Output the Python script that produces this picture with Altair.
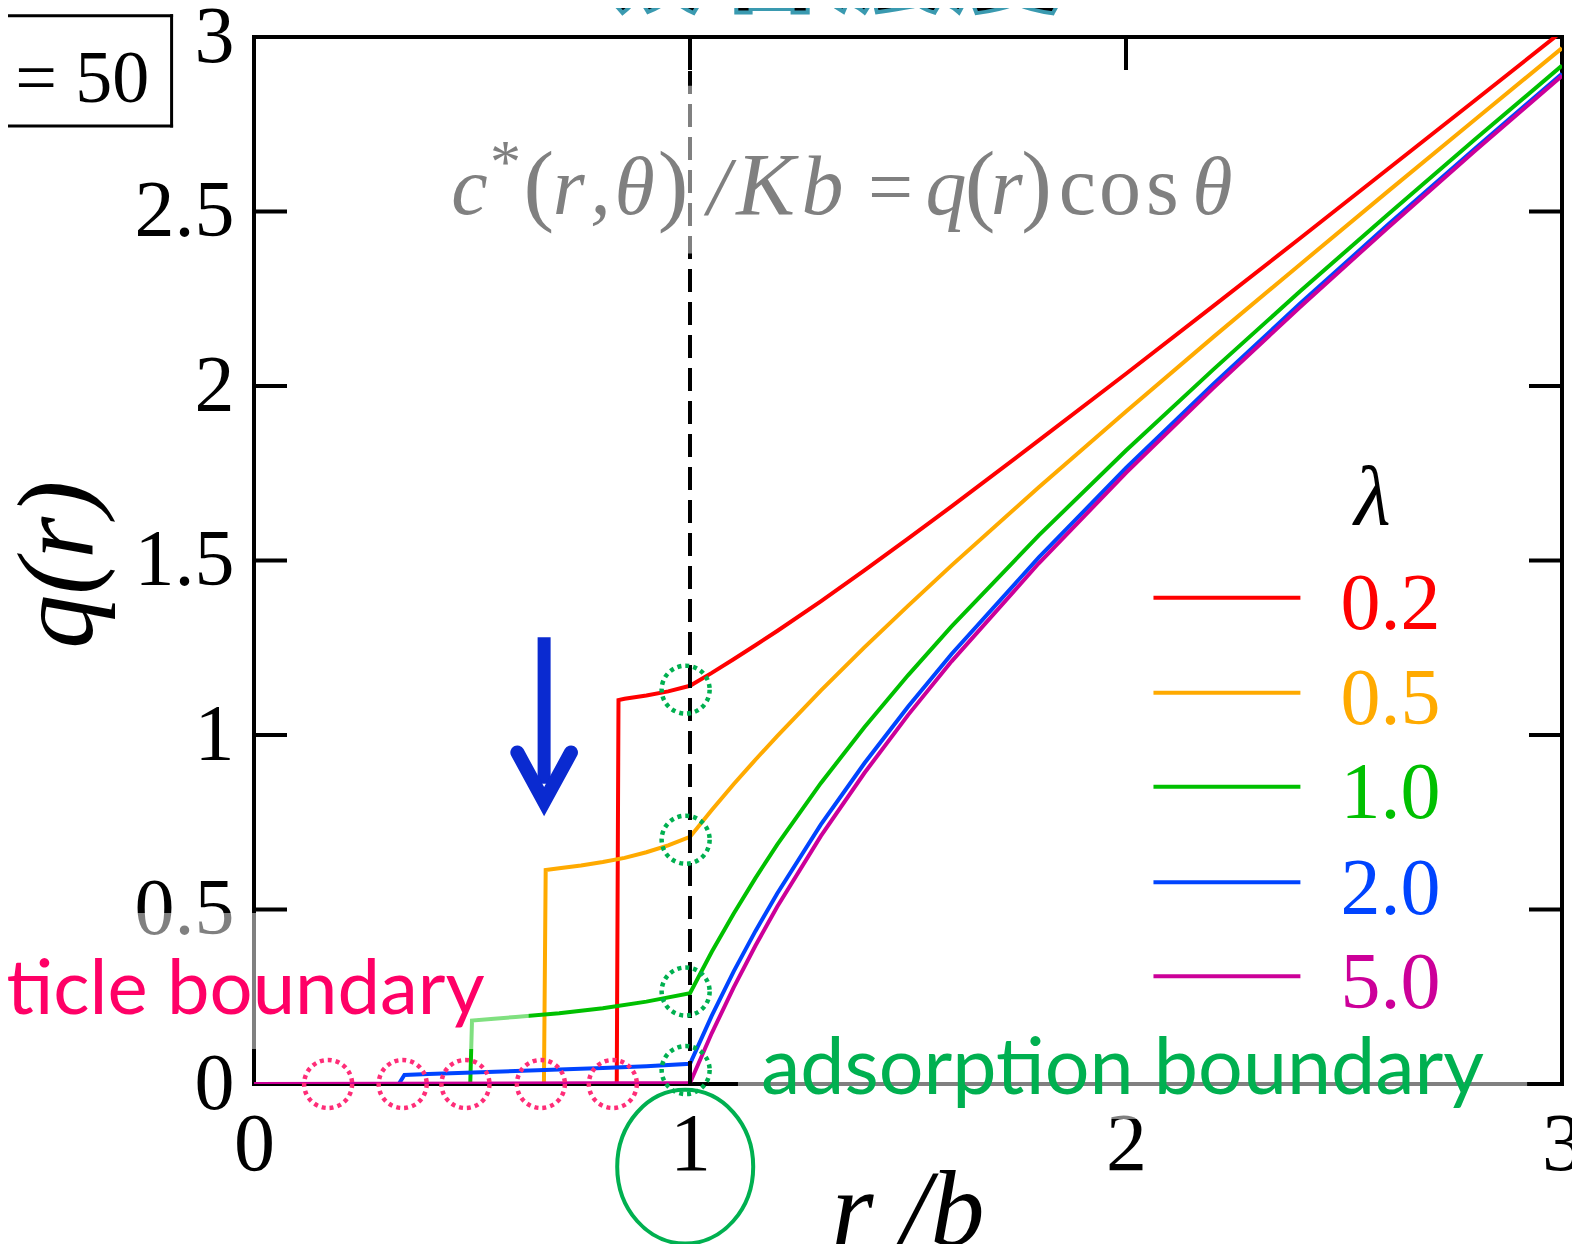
import altair as alt
import pandas as pd

# ---------------- data ----------------
lam_labels = ["0.2", "0.5", "1.0", "2.0", "5.0"]
lam_colors = ["#ff0000", "#ffaa00", "#00c000", "#0044ff", "#cc0099"]

r_x = [0, 0.832, 0.836, 0.85, 0.9, 0.95, 1.0, 1.05, 1.1, 1.15, 1.2, 1.3, 1.4, 1.5, 1.6, 1.8, 2.0, 2.2, 2.4, 2.6, 2.8, 3.0]
r_q = [0, 0, 1.100, 1.104, 1.113, 1.125, 1.141, 1.178, 1.217, 1.257, 1.298, 1.383, 1.472, 1.563, 1.655, 1.844, 2.035, 2.229, 2.424, 2.621, 2.818, 3.016]

o_x = [0, 0.665, 0.669, 0.7, 0.75, 0.8, 0.85, 0.9, 0.95, 1.0, 1.05, 1.1, 1.15, 1.2, 1.3, 1.4, 1.5, 1.6, 1.8, 2.0, 2.2, 2.4, 2.6, 2.8, 3.0]
o_q = [0, 0, 0.613, 0.618, 0.626, 0.636, 0.648, 0.664, 0.684, 0.708, 0.785, 0.859, 0.929, 0.997, 1.127, 1.251, 1.370, 1.486, 1.710, 1.927, 2.140, 2.349, 2.557, 2.763, 2.968]

g_x = [0, 0.496, 0.5, 0.6, 0.7, 0.8, 0.9, 1.0, 1.05, 1.1, 1.15, 1.2, 1.3, 1.4, 1.5, 1.6, 1.8, 2.0, 2.2, 2.4, 2.6, 2.8, 3.0]
g_q = [0, 0, 0.182, 0.192, 0.203, 0.217, 0.236, 0.26, 0.379, 0.488, 0.590, 0.686, 0.862, 1.022, 1.171, 1.311, 1.572, 1.815, 2.047, 2.272, 2.491, 2.706, 2.918]

b_x = [0, 0.332, 0.345, 0.4, 0.6, 0.8, 0.9, 1.0, 1.05, 1.1, 1.15, 1.2, 1.3, 1.4, 1.5, 1.6, 1.8, 2.0, 2.2, 2.4, 2.6, 2.8, 3.0]
b_q = [0, 0, 0.026, 0.029, 0.037, 0.046, 0.051, 0.058, 0.196, 0.322, 0.438, 0.546, 0.743, 0.919, 1.081, 1.232, 1.509, 1.765, 2.005, 2.237, 2.461, 2.680, 2.895]

m_x = [0, 1.0, 1.05, 1.1, 1.15, 1.2, 1.3, 1.4, 1.5, 1.6, 1.8, 2.0, 2.2, 2.4, 2.6, 2.8, 3.0]
m_q = [0, 0.003, 0.146, 0.276, 0.396, 0.508, 0.710, 0.891, 1.057, 1.211, 1.492, 1.751, 1.994, 2.227, 2.453, 2.673, 2.889]

series = [(lam_labels[0], r_x, r_q), (lam_labels[1], o_x, o_q), (lam_labels[2], g_x, g_q),
          (lam_labels[3], b_x, b_q), (lam_labels[4], m_x, m_q)]

y_ticks = [0, 0.5, 1, 1.5, 2, 2.5, 3]
x_ticks = [0, 1, 2, 3]

particle_marks = [0.170, 0.341, 0.485, 0.658, 0.823]
adsorption_marks = [1.13, 0.70, 0.265, 0.04]

# ---------------- tables ----------------
rows = []
for k, (lab, xs_, qs_) in enumerate(series):
    for i, (a, b) in enumerate(zip(xs_, qs_)):
        rows.append({"lam": lab, "k": k, "i": i, "x": a, "q": b})
curves = pd.DataFrame(rows)

XS = alt.Scale(domain=[0, 3], nice=False, zero=False)
YS = alt.Scale(domain=[0, 3], nice=False, zero=False)
CS = alt.Scale(domain=lam_labels, range=lam_colors)

W, H = 1308, 1047
tlx = 33 / (W / 3)
tly = 33 / (H / 3)

def X(f="x"):
    return alt.X(f, type="quantitative", scale=XS, title=None)

def Y(f="q"):
    return alt.Y(f, type="quantitative", scale=YS, title=None)

# frame
frame_df = pd.DataFrame({"x": [0, 0, 0, 3], "x2": [3, 3, 0, 3], "q": [0, 3, 0, 0], "q2": [0, 3, 3, 3]})
frame = alt.Chart(frame_df).mark_rule(strokeWidth=4, color="black", strokeCap="square").encode(
    x=alt.X("x:Q", scale=XS, title=None,
            axis=alt.Axis(values=x_ticks, format="d", ticks=False, domain=False, grid=False,
                          labelFont="Liberation Serif", labelFontSize=82, labelColor="black",
                          labelPadding=20, labelFlush=False, labelOverlap=False, labelBound=False)),
    x2="x2:Q",
    y=alt.Y("q:Q", scale=YS, title=None,
            axis=alt.Axis(values=y_ticks, format=".1~f", ticks=False, domain=False, grid=False,
                          labelFont="Liberation Serif", labelFontSize=80, labelColor="black",
                          labelPadding=20, labelFlush=False, labelOverlap=False, labelBound=False)),
    y2="q2:Q",
)

tick_rows = []
for v in y_ticks[1:-1]:
    tick_rows.append({"x": 0, "x2": tlx, "q": v, "q2": v})
    tick_rows.append({"x": 3 - tlx, "x2": 3, "q": v, "q2": v})
for v in x_ticks[1:-1]:
    tick_rows.append({"x": v, "x2": v, "q": 3 - tly, "q2": 3})
ticks = alt.Chart(pd.DataFrame(tick_rows)).mark_rule(strokeWidth=4, color="black").encode(
    x=X(), x2="x2:Q", y=Y(), y2="q2:Q")

lines = alt.Chart(curves).mark_line(strokeWidth=4, clip=True).encode(
    x=X(), y=Y(), color=alt.Color("lam:N", scale=CS, legend=None),
    detail="k:N", order="i:Q")

dash = alt.Chart(pd.DataFrame({"x": [1], "q": [0], "q2": [3]})).mark_rule(
    strokeWidth=4, color="black", strokeDash=[23, 10]).encode(x=X(), y=Y(), y2="q2:Q")

# translucent text boxes of the slide
box_df = pd.DataFrame({"x": [-0.75, 1.11, 0.42], "x2": [0.63, 2.92, 2.18],
                       "q": [0.10, -0.10, 2.38], "q2": [0.49, 0.08, 2.86]})
boxes = alt.Chart(box_df).mark_rect(color="white", opacity=0.5).encode(
    x=X(), x2="x2:Q", y=Y(), y2="q2:Q")

pink = alt.Chart(pd.DataFrame({"x": particle_marks, "q": [0] * len(particle_marks)})).mark_point(
    shape="circle", size=2304, filled=False, stroke="#ff2d78", strokeWidth=4.5,
    strokeDash=[4, 4], opacity=1).encode(x=X(), y=Y())
greenc = alt.Chart(pd.DataFrame({"x": [0.99] * len(adsorption_marks), "q": adsorption_marks})).mark_point(
    shape="circle", size=2304, filled=False, stroke="#00b050", strokeWidth=4.5,
    strokeDash=[4, 4], opacity=1).encode(x=X(), y=Y())
ellipse = alt.Chart(pd.DataFrame({"x": [0.989], "q": [-0.237]})).mark_point(
    shape="M-1,0A1,1.13,0,0,1,1,0A1,1.13,0,0,1,-1,0Z", size=18496, filled=False,
    stroke="#00b050", strokeWidth=4, opacity=1).encode(x=X(), y=Y())

# arrow
shaft = alt.Chart(pd.DataFrame({"x": [0.6654, 0.6654], "q": [1.28, 0.86], "i": [0, 1]})).mark_line(
    strokeWidth=13, color="#0a2ad0", strokeCap="butt").encode(x=X(), y=Y(), order="i:Q")
head = alt.Chart(pd.DataFrame({"x": [0.604, 0.6654, 0.727], "q": [0.950, 0.809, 0.950], "i": [0, 1, 2]})).mark_line(
    strokeWidth=14, color="#0a2ad0", strokeCap="round", strokeJoin="miter").encode(x=X(), y=Y(), order="i:Q")

# legend
leg_q = [1.393, 1.121, 0.852, 0.578, 0.309]
leg_df = pd.DataFrame({"lam": lam_labels, "x": [2.063] * 5, "x2": [2.40] * 5, "q": leg_q,
                       "lx": [2.492] * 5, "lq": [v - 0.090 for v in leg_q]})
leg_lines = alt.Chart(leg_df).mark_rule(strokeWidth=4).encode(
    x=X(), x2="x2:Q", y=Y(), color=alt.Color("lam:N", scale=CS, legend=None))
leg_text = alt.Chart(leg_df).mark_text(font="Liberation Serif", fontSize=80, align="left",
                                       baseline="alphabetic").encode(
    x=X("lx"), y=Y("lq"), text="lam:N", color=alt.Color("lam:N", scale=CS, legend=None))

def label(t, x, q, **kw):
    return alt.Chart(pd.DataFrame({"x": [x], "q": [q], "t": [t]})).mark_text(**kw).encode(
        x=X(), y=Y(), text="t:N")

grey = "#808080"
fq = 2.494
formula = [
    ("c", 0.4526, fq, 82, "italic"),
    ("*", 0.541, 2.585, 62, "normal"),
    ("(", 0.618, fq, 92, "normal"),
    ("r", 0.685, fq, 82, "italic"),
    (",", 0.771, fq, 82, "italic"),
    ("θ", 0.827, fq, 82, "italic"),
    (")", 0.926, fq, 92, "normal"),
    ("/", 1.040, fq, 82, "italic"),
    ("K", 1.106, fq, 88, "italic"),
    ("b", 1.256, fq, 84, "italic"),
    ("=", 1.408, fq, 80, "normal"),
    ("q", 1.540, fq, 82, "italic"),
    ("(", 1.630, fq, 92, "normal"),
    ("r", 1.690, fq, 82, "italic"),
    (")", 1.760, fq, 92, "normal"),
    ("c", 1.846, fq, 84, "normal"),
    ("o", 1.938, fq, 84, "normal"),
    ("s", 2.046, fq, 84, "normal"),
    ("θ", 2.152, fq, 82, "italic"),
]
texts = [label(t, x, q, fontSize=s, fontStyle=st, font="Liberation Serif", color=grey,
               align="left", baseline="alphabetic") for (t, x, q, s, st) in formula]

serif_i = dict(font="Liberation Serif", fontStyle="italic")
texts += [
    label("λ", 2.565, 1.606, fontSize=84, color="black", align="center", baseline="alphabetic", **serif_i),
    label("q(r)", -0.445, 1.488, fontSize=108, color="black", align="center", baseline="middle", angle=270, **serif_i),
    label("r /b", 1.5, -0.462, fontSize=108, color="black", align="center", baseline="alphabetic", **serif_i),
    label("particle boundary", 0.529, 0.202, fontSize=76, color="#ff0066", align="right", baseline="alphabetic", font="Lato"),
    label("adsorption boundary", 1.163, -0.029, fontSize=79, color="#00b050", align="left", baseline="alphabetic", font="Lato"),
    label("= 50", -0.240, 2.814, fontSize=74, color="black", align="right", baseline="alphabetic", font="Liberation Serif"),
    label("吸着濃度", 1.309, 3.100, fontSize=120, color="black", stroke="#3a9ab0", strokeWidth=4,
          align="center", baseline="alphabetic", font="Noto Sans CJK JP", fontWeight="bold"),
]

# box around "= 50" (its left side lies off the page)
nbox_df = pd.DataFrame({"x": [-0.75, -0.75, -0.189], "x2": [-0.189, -0.189, -0.189],
                        "q": [2.745, 3.061, 2.745], "q2": [2.745, 3.061, 3.061]})
nbox = alt.Chart(nbox_df).mark_rule(color="black", strokeWidth=3, strokeCap="square").encode(
    x=X(), x2="x2:Q", y=Y(), y2="q2:Q")

chart = alt.layer(
    frame, ticks, lines, dash, boxes, pink, greenc, ellipse, shaft, head,
    leg_lines, leg_text, nbox, *texts
).properties(
    width=W, height=H,
    autosize=alt.AutoSizeParams(type="none"),
    padding={"left": 246, "top": 29, "right": 10, "bottom": 160},
    background="white",
).configure_view(stroke=None)

chart.save("out.html", embed_options={"renderer": "svg", "actions": False})
